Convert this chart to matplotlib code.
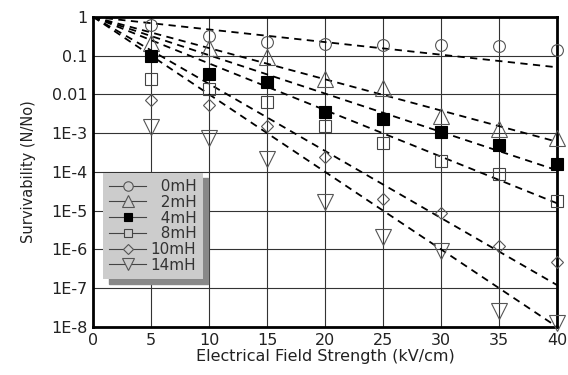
import matplotlib
matplotlib.use("Agg")
import matplotlib.pyplot as plt
from matplotlib.lines import Line2D

# field strength (kV/cm)
field = [5, 10, 15, 20, 25, 30, 35, 40]

labels = ["0mH", "2mH", "4mH", "8mH", "10mH", "14mH"]

surv_0mH = [0.62, 0.32, 0.23, 0.20, 0.19, 0.19, 0.18, 0.14]
surv_2mH = [0.21, 0.16, 0.091, 0.025, 0.0145, 0.0027, 1.3e-3, 7.7e-4]
surv_4mH = [0.10, 0.033, 0.021, 3.5e-3, 2.3e-3, 1.1e-3, 5.0e-4, 1.6e-4]
surv_8mH = [0.025, 0.0138, 6.3e-3, 1.5e-3, 5.7e-4, 1.9e-4, 8.9e-5, 1.8e-5]
surv_10mH = [7.2e-3, 5.3e-3, 1.5e-3, 2.5e-4, 2.0e-5, 8.6e-6, 1.2e-6, 4.7e-7]
surv_14mH = [1.45e-3, 7.4e-4, 2.2e-4, 1.65e-5, 2.1e-6, 9.1e-7, 2.6e-8, 1.3e-8]

# fitted lines: from (0, 1) to these values at 40 kV/cm
fit_x = [0, 40]
fit_end = [0.05, 6e-4, 1.1e-4, 1.55e-5, 1.2e-7, 1e-8]

yticks = [1, 0.1, 0.01, 1e-3, 1e-4, 1e-5, 1e-6, 1e-7, 1e-8]
ytick_labels = ["1", "0.1", "0.01", "1E-3", "1E-4", "1E-5", "1E-6", "1E-7", "1E-8"]
xticks = [0, 5, 10, 15, 20, 25, 30, 35, 40]

series = [surv_0mH, surv_2mH, surv_4mH, surv_8mH, surv_10mH, surv_14mH]
markers = ["o", "^", "s", "s", "D", "v"]
msizes = [8.5, 11, 8, 8, 6, 11]
fills = ["none", "none", "black", "none", "none", "none"]
edges = ["#555555", "#555555", "black", "#444444", "#555555", "#555555"]

plt.rcParams["font.family"] = ["DejaVu Sans"]

fig = plt.figure(figsize=(5.68, 3.75), dpi=100)
ax = fig.add_axes([0.164, 0.128, 0.817, 0.827])

for i in range(len(series)):
    ax.plot(fit_x, [1, fit_end[i]], "k--", lw=1.3, dashes=(4, 3), zorder=2)
    ax.plot(field, series[i], linestyle="none", marker=markers[i],
            markersize=msizes[i], markerfacecolor=fills[i],
            markeredgecolor=edges[i], markeredgewidth=0.8, zorder=3,
            clip_on=False)

ax.set_yscale("log")
ax.set_xlim(0, 40)
ax.set_ylim(1e-8, 1)
ax.set_xticks(xticks)
ax.set_yticks(yticks)
ax.set_yticklabels(ytick_labels)
ax.minorticks_off()
ax.tick_params(length=0, labelsize=11.5, colors="#222222", pad=4)
ax.grid(True, color="#333333", lw=0.8)
ax.set_axisbelow(True)
for s in ax.spines.values():
    s.set_linewidth(2)
ax.set_xlabel("Electrical Field Strength (kV/cm)", fontsize=11.5, labelpad=1,
              color="#222222")
ax.set_ylabel("Survivability (N/No)", fontsize=10.5, labelpad=11,
              color="#222222")

# legend
handles = []
for i in range(len(series)):
    handles.append(Line2D([0], [0], color="#444444", lw=0.8, marker=markers[i],
                          markersize=msizes[i] * 0.8,
                          markerfacecolor=fills[i] if fills[i] != "none" else "#cccccc",
                          markeredgecolor=edges[i], markeredgewidth=0.8))
leg_labels = ["  " + l if len(l) == 3 else l for l in labels]
leg = ax.legend(handles, leg_labels, loc="lower left", bbox_to_anchor=(0.022, 0.155),
                borderaxespad=0, fancybox=False, framealpha=1, facecolor="#cccccc",
                edgecolor="none", handlelength=2.4, handletextpad=0.3,
                labelspacing=0.05, fontsize=11, borderpad=0.4,
                shadow={"ox": 4, "oy": -4, "color": "#888888", "alpha": 1})
for t in leg.get_texts():
    t.set_color("#333333")

plt.savefig("out.png", dpi=100)
